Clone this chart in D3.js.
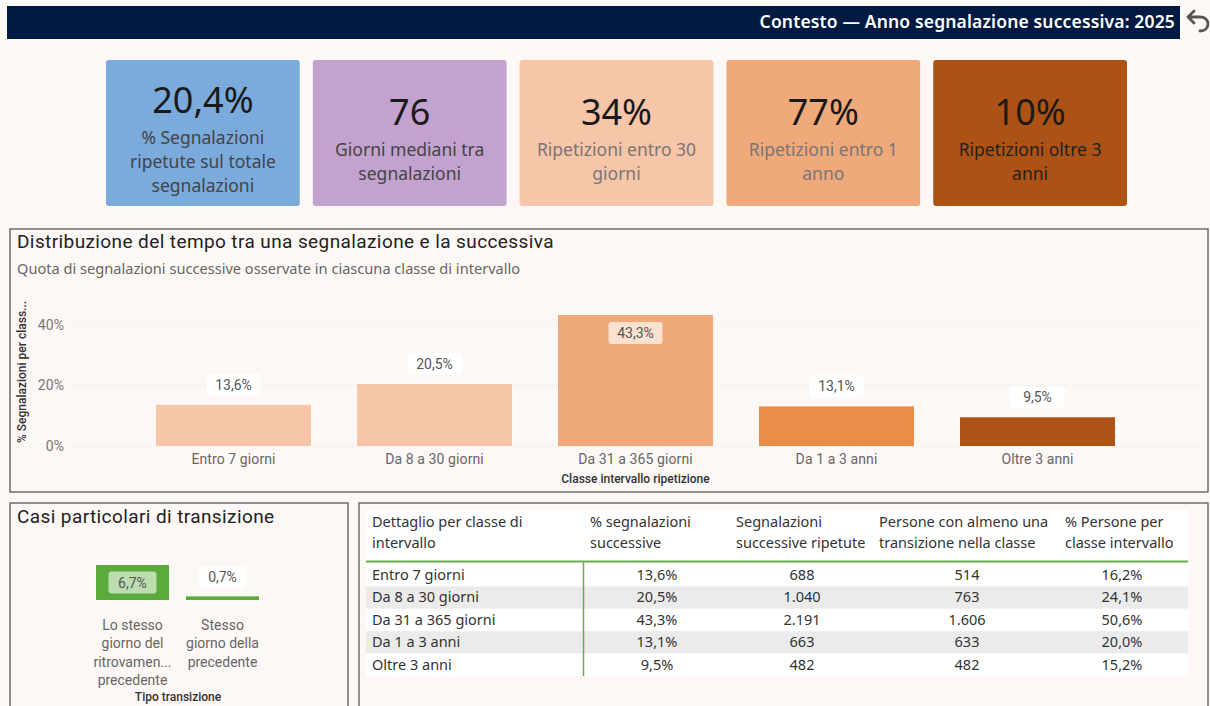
<!DOCTYPE html>
<meta charset="utf-8">
<style type="text/css">
body {
  margin: 0;
  background: #fdf8f5;
  font-family: "Noto Sans", sans-serif;
}

.panel {
  fill: #fdf8f5;
  stroke: #5a5a5a;
  stroke-width: 1.3px;
}

.din {
  font-family: Roboto, sans-serif;
}

.axis text {
  font-size: 14px;
  fill: #666;
  letter-spacing: 0.1px;
}

.grid line {
  stroke: #ddd;
  stroke-dasharray: 1,3;
}

.cell {
  font-size: 14.5px;
  fill: #333;
}
</style>
<body>
<script src="https://d3js.org/d3.v7.min.js"></script>
<script>
// header
var headerText = "Contesto \u2014 Anno segnalazione successiva: 2025";

// kpi cards
var kpiValues = ["20,4%", "76", "34%", "77%", "10%"];
var kpiLabels = [
  "% Segnalazioni\nripetute sul totale\nsegnalazioni",
  "Giorni mediani tra\nsegnalazioni",
  "Ripetizioni entro 30\ngiorni",
  "Ripetizioni entro 1\nanno",
  "Ripetizioni oltre 3\nanni"
];
var kpiColors = ["#7aabdc", "#c3a2d0", "#f7c5a7", "#f0a97a", "#ad5215"];
var kpiLabelColors = ["#444", "#444", "#777", "#777", "#222"];

// distribution chart
var classes = ["Entro 7 giorni", "Da 8 a 30 giorni", "Da 31 a 365 giorni", "Da 1 a 3 anni", "Oltre 3 anni"];
var classShares = [0.136, 0.205, 0.433, 0.131, 0.095];
var classColors = ["#f7c5a7", "#f7c5a7", "#f0a97a", "#eb8c4b", "#ae5316"];
var yTicks = [0, 0.2, 0.4];

// special transitions
var transitionTypes = ["Lo stesso\ngiorno del\nritrovamen...\nprecedente", "Stesso\ngiorno della\nprecedente"];
var transitionShares = [0.067, 0.007];

// table
var tableHeaders = [
  "Dettaglio per classe di\nintervallo",
  "% segnalazioni\nsuccessive",
  "Segnalazioni\nsuccessive ripetute",
  "Persone con almeno una\ntransizione nella classe",
  "% Persone per\nclasse intervallo"
];
var pctSuccessive = ["13,6%", "20,5%", "43,3%", "13,1%", "9,5%"];
var repeatedCount = ["688", "1.040", "2.191", "663", "482"];
var personCount = ["514", "763", "1.606", "633", "482"];
var pctPersons = ["16,2%", "24,1%", "50,6%", "20,0%", "15,2%"];

var pctFmt = function(v) { return d3.format(".1f")(v * 100).replace(".", ",") + "%"; };

var svg = d3.select("body").append("svg")
    .attr("width", 1210)
    .attr("height", 706);

/* header */
svg.append("rect")
  .attr("x", 7).attr("y", 6).attr("width", 1173).attr("height", 33)
  .style("fill", "#001a42");
svg.append("text")
  .attr("x", 1175).attr("y", 28)
  .attr("text-anchor", "end")
  .style("fill", "#fff")
  .style("font-size", "17.5px")
  .style("font-weight", 600)
  .style("letter-spacing", "0.15px")
  .text(headerText);

// undo arrow
svg.append("path")
  .attr("d", "M1194,11 L1188,17 L1194,23 M1188,17 L1200,17 C1205,17 1208,20 1208,24 C1208,28 1205,31 1200,31")
  .style("fill", "none")
  .style("stroke", "#555")
  .style("stroke-width", 2.8)
  .style("stroke-linecap", "round")
  .style("stroke-linejoin", "round");

/* kpi cards */
var cardX = d3.scaleBand()
  .domain(d3.range(kpiValues.length))
  .range([106, 1127])
  .paddingInner(0.063);

var cards = svg.selectAll("g.card")
  .data(kpiValues)
  .enter().append("g")
  .attr("class", "card")
  .attr("transform", function(d, i) { return "translate(" + cardX(i) + ",60)"; });

cards.append("rect")
  .attr("width", cardX.bandwidth())
  .attr("height", 146)
  .attr("rx", 3)
  .style("fill", function(d, i) { return kpiColors[i]; });

cards.each(function(d, i) {
  var g = d3.select(this);
  var lines = kpiLabels[i].split("\n");
  var cx = cardX.bandwidth() / 2;
  var valueY = lines.length === 3 ? 53 : 65;
  g.append("text")
    .attr("x", cx).attr("y", valueY)
    .attr("text-anchor", "middle")
    .style("font-size", "36px")
    .style("fill", "#1a1a1a")
    .text(d);
  g.selectAll("text.lbl")
    .data(lines)
    .enter().append("text")
    .attr("class", "lbl")
    .attr("x", cx)
    .attr("y", function(l, j) { return valueY + 31 + j * 24; })
    .attr("text-anchor", "middle")
    .style("font-size", "17.5px")
    .style("fill", kpiLabelColors[i])
    .text(function(l) { return l; });
});

/* distribution chart */
svg.append("rect").attr("class", "panel")
  .attr("x", 10).attr("y", 229).attr("width", 1198).attr("height", 263);

svg.append("text").attr("class", "din")
  .attr("x", 17).attr("y", 248)
  .style("font-size", "19px")
  .style("letter-spacing", "0.4px")
  .style("fill", "#222")
  .text("Distribuzione del tempo tra una segnalazione e la successiva");

svg.append("text")
  .attr("x", 17).attr("y", 274)
  .style("font-size", "14.6px")
  .style("fill", "#666")
  .text("Quota di segnalazioni successive osservate in ciascuna classe di intervallo");

var x = d3.scaleBand()
  .domain(classes)
  .range([133, 1138])
  .paddingInner(0.229)
  .paddingOuter(0.1145);

var y = d3.scaleLinear()
  .domain([0, 0.45])
  .range([446, 446 - 0.45 * 302.5]);

svg.append("g")
  .attr("class", "grid")
  .selectAll("line")
  .data(yTicks)
  .enter().append("line")
  .attr("x1", 72).attr("x2", 1200)
  .attr("y1", function(d) { return y(d); })
  .attr("y2", function(d) { return y(d); });

var yAxis = svg.append("g")
  .attr("class", "axis din")
  .attr("transform", "translate(64,0)")
  .call(d3.axisLeft(y).tickValues(yTicks).tickSize(0).tickFormat(d3.format(".0%")));
yAxis.select(".domain").remove();
yAxis.selectAll("text").attr("x", 0).style("font-family", "Roboto, sans-serif").style("fill", "#777");

svg.append("text").attr("class", "din")
  .attr("transform", "translate(26,372) rotate(-90)")
  .attr("text-anchor", "middle")
  .style("font-size", "12px")
  .style("font-weight", 500)
  .style("fill", "#333")
  .text("% Segnalazioni per class...");

svg.selectAll("rect.bar")
  .data(classShares)
  .enter().append("rect")
  .attr("class", "bar")
  .attr("x", function(d, i) { return x(classes[i]); })
  .attr("y", function(d) { return y(d); })
  .attr("width", x.bandwidth())
  .attr("height", function(d) { return y(0) - y(d); })
  .style("fill", function(d, i) { return classColors[i]; });

var xAxis = svg.append("g")
  .attr("class", "axis din")
  .attr("transform", "translate(0,446)")
  .call(d3.axisBottom(x).tickSize(0).tickPadding(8));
xAxis.select(".domain").remove();
xAxis.selectAll("text").style("font-family", "Roboto, sans-serif");

svg.append("text").attr("class", "din")
  .attr("x", x("Da 31 a 365 giorni") + x.bandwidth() / 2).attr("y", 483)
  .attr("text-anchor", "middle")
  .style("font-size", "12px")
  .style("font-weight", 500)
  .style("fill", "#333")
  .text("Classe intervallo ripetizione");

// bar labels
var labels = svg.selectAll("g.blabel")
  .data(classShares)
  .enter().append("g")
  .attr("class", "blabel")
  .attr("transform", function(d, i) {
    var inside = d > 0.3;
    var cy = inside ? y(d) + 18 : y(d) - 20;
    return "translate(" + (x(classes[i]) + x.bandwidth() / 2) + "," + cy + ")";
  });
labels.append("rect")
  .attr("x", -27).attr("y", -11).attr("width", 54).attr("height", 22).attr("rx", 3)
  .style("fill", "#fff")
  .style("fill-opacity", function(d) { return d > 0.3 ? 0.65 : 1; });
labels.append("text").attr("class", "din")
  .attr("y", 5)
  .attr("text-anchor", "middle")
  .style("font-size", "14px")
  .style("fill", "#555")
  .text(pctFmt);

/* special transitions */
svg.append("rect").attr("class", "panel")
  .attr("x", 10).attr("y", 503).attr("width", 338).attr("height", 210);

svg.append("text").attr("class", "din")
  .attr("x", 17).attr("y", 523)
  .style("font-size", "19px")
  .style("letter-spacing", "0.4px")
  .style("fill", "#222")
  .text("Casi particolari di transizione");

var tx = d3.scaleBand()
  .domain(transitionTypes)
  .range([87.5, 267.5])
  .paddingInner(0.189)
  .paddingOuter(0.0944);

var ty = d3.scaleLinear()
  .domain([0, 0.07])
  .range([600, 600 - 0.07 * 522]);

svg.selectAll("rect.tbar")
  .data(transitionShares)
  .enter().append("rect")
  .attr("class", "tbar")
  .attr("x", function(d, i) { return tx(transitionTypes[i]); })
  .attr("y", function(d) { return ty(d); })
  .attr("width", tx.bandwidth())
  .attr("height", function(d) { return ty(0) - ty(d); })
  .style("fill", "#5aab3c");

var tlabels = svg.selectAll("g.tlabel")
  .data(transitionShares)
  .enter().append("g")
  .attr("class", "tlabel")
  .attr("transform", function(d, i) {
    var inside = d > 0.03;
    var cy = inside ? (ty(d) + ty(0)) / 2 : ty(d) - 19;
    return "translate(" + (tx(transitionTypes[i]) + tx.bandwidth() / 2) + "," + cy + ")";
  });
tlabels.append("rect")
  .attr("x", -24).attr("y", -11).attr("width", 48).attr("height", 22).attr("rx", 3)
  .style("fill", "#fff")
  .style("fill-opacity", function(d) { return d > 0.03 ? 0.6 : 1; });
tlabels.append("text").attr("class", "din")
  .attr("y", 5)
  .attr("text-anchor", "middle")
  .style("font-size", "14px")
  .style("fill", "#555")
  .text(pctFmt);

svg.selectAll("text.tcat")
  .data(transitionTypes)
  .enter().append("text")
  .attr("class", "tcat din")
  .attr("text-anchor", "middle")
  .style("font-size", "14px")
  .style("fill", "#666")
  .each(function(d) {
    var t = d3.select(this);
    d.split("\n").forEach(function(l, j) {
      t.append("tspan")
        .attr("x", tx(d) + tx.bandwidth() / 2)
        .attr("y", 630 + j * 18.3)
        .text(l);
    });
  });

svg.append("text").attr("class", "din")
  .attr("x", 178).attr("y", 701)
  .attr("text-anchor", "middle")
  .style("font-size", "12px")
  .style("font-weight", 500)
  .style("fill", "#333")
  .text("Tipo transizione");

/* table */
svg.append("rect").attr("class", "panel")
  .attr("x", 359).attr("y", 503).attr("width", 849).attr("height", 210);

var colLeft = [372, 590, 736, 879, 1065];
var colCenter = [null, 657, 802, 967, 1122];
var rowTop = 564, rowH = 22.4;

svg.append("rect")
  .attr("x", 366).attr("y", 510).attr("width", 822).attr("height", rowTop - 510 + rowH * classes.length)
  .style("fill", "#fff");

svg.selectAll("rect.stripe")
  .data(classes)
  .enter().append("rect")
  .attr("class", "stripe")
  .attr("x", 366)
  .attr("y", function(d, i) { return rowTop + i * rowH; })
  .attr("width", 822)
  .attr("height", rowH)
  .style("fill", function(d, i) { return i % 2 ? "#ebebeb" : "#fff"; });

svg.selectAll("text.head")
  .data(tableHeaders)
  .enter().append("text")
  .attr("class", "head cell")
  .each(function(d, i) {
    var t = d3.select(this);
    d.split("\n").forEach(function(l, j) {
      t.append("tspan")
        .attr("x", colLeft[i])
        .attr("y", 527 + j * 21)
        .text(l);
    });
  });

svg.append("line")
  .attr("x1", 366).attr("x2", 1188)
  .attr("y1", 561.5).attr("y2", 561.5)
  .style("stroke", "#6aad4e")
  .style("stroke-width", 2);

svg.append("line")
  .attr("x1", 583.5).attr("x2", 583.5)
  .attr("y1", 562).attr("y2", rowTop + rowH * classes.length)
  .style("stroke", "#6aad4e")
  .style("stroke-width", 1.5);

var rows = svg.selectAll("g.row")
  .data(classes)
  .enter().append("g")
  .attr("class", "row")
  .attr("transform", function(d, i) { return "translate(0," + (rowTop + i * rowH + 16) + ")"; });

rows.append("text").attr("class", "cell")
  .attr("x", colLeft[0])
  .text(function(d) { return d; });

[pctSuccessive, repeatedCount, personCount, pctPersons].forEach(function(col, c) {
  rows.append("text").attr("class", "cell")
    .attr("x", colCenter[c + 1])
    .attr("text-anchor", "middle")
    .text(function(d, i) { return col[i]; });
});
</script>
</body>
